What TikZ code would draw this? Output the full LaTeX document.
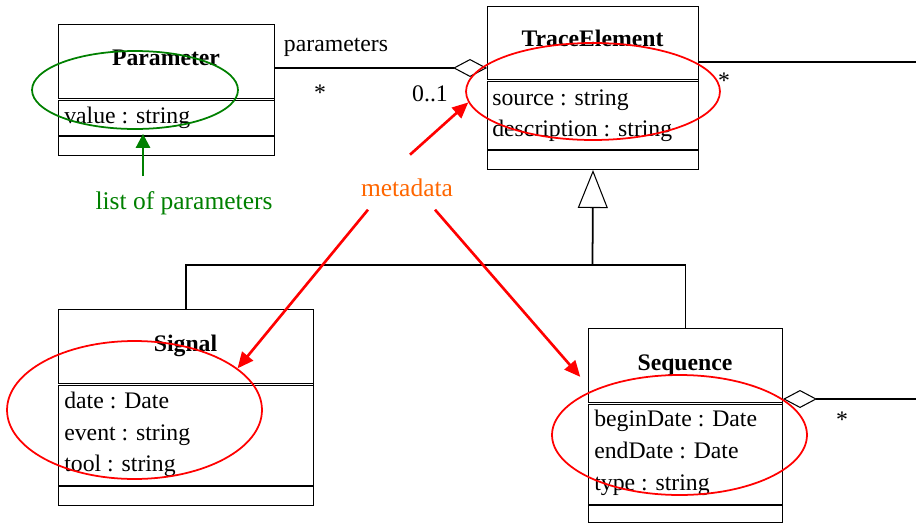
\documentclass[tikz,border=0pt]{standalone}
\usepackage{fontspec}
\setmainfont{Liberation Serif}
\usetikzlibrary{
  arrows.meta,
  positioning,
  shapes.geometric,
  calc
}
\definecolor{note}{RGB}{255,0,0}
\definecolor{metatext}{RGB}{255,102,0}
\definecolor{paramnote}{RGB}{0,128,0}

\begin{document}
\begin{tikzpicture}[
  x=0.02cm, y=-0.02cm,
  every node/.style={font=\fontsize{13.5}{16}\selectfont, inner sep=0pt},
  cls/.style={draw, line width=0.6pt, anchor=north west},
  clsname/.style={font=\fontsize{13.5}{16}\selectfont\bfseries, anchor=base},
  attr/.style={anchor=base west},
  mult/.style={anchor=base},
  divider/.style={line width=0.6pt},
  dividertwin/.style={double, double distance=0.7pt, line width=0.5pt},
  ring/.style={ellipse, draw=note, line width=1pt},
  notearrow/.style={draw=note, line width=1.5pt,
                    -{Triangle[length=0.32cm, width=0.28cm]}},
  notelabel/.style={font=\fontsize{14.5}{17}\selectfont, anchor=base},
  assoc/.style={line width=0.6pt},
  aggr/.tip={Diamond[open, fill=white, length=0.68cm, width=0.36cm, line width=0.6pt]},
  gen/.tip={Triangle[open, fill=white, length=0.76cm, width=0.6cm, line width=0.6pt]}
]
\useasboundingbox (0,0) rectangle (916,524);

% Parameter
\node[cls, minimum width=4.32cm, minimum height=2.62cm] (param) at (58,24) {};
\node[clsname] (paramname) at (166,65.7) {Parameter};
\draw[dividertwin] (58,99.3) -- (274,99.3);
\draw[divider] (58,136) -- (274,136);
\node[attr] (paramvalue) at (64,123.3) {value : string};

% TraceElement
\node[cls, minimum width=4.22cm, minimum height=3.26cm] (trace) at (487,6) {};
\node[clsname] (tracename) at (592.5,46.7) {TraceElement};
\draw[dividertwin] (487,80.3) -- (698,80.3);
\draw[divider] (487,150) -- (698,150);
\node[attr] (tracesource) at (492,105) {source : string};
\node[attr] (tracedesc) at (492,136) {description : string};

% Signal
\node[cls, minimum width=5.10cm, minimum height=3.92cm] (signal) at (58,309) {};
\node[clsname] (signalname) at (185.5,351) {Signal};
\draw[dividertwin] (58,384.3) -- (313,384.3);
\draw[divider] (58,486) -- (313,486);
\node[attr] (signaldate) at (64,408) {date : Date};
\node[attr] (signalevent) at (64,440) {event : string};
\node[attr] (signaltool) at (64,471.7) {tool : string};

% Sequence
\node[cls, minimum width=3.88cm, minimum height=3.88cm] (seq) at (588,328) {};
\node[clsname] (seqname) at (685,370) {Sequence};
\draw[dividertwin] (588,403.2) -- (782,403.2);
\draw[divider] (588,505) -- (782,505);
\node[attr] (seqbegin) at (594,426.7) {beginDate : Date};
\node[attr] (seqend) at (594,458.3) {endDate : Date};
\node[attr] (seqtype) at (594,490) {type : string};

% associations
\coordinate (paramend) at ([yshift=-1.24cm]trace.north west);
\draw[assoc, -aggr] (param.east |- paramend) -- (paramend);
\node[mult] (paramrole) at (336,51.7) {parameters};
\node[mult] (parammany) at (320,100) {*};
\node[mult] (paramone) at (430,101.7) {0..1};

\coordinate (traceout) at (916,62);
\draw[assoc] (trace.east |- traceout) -- (traceout);
\node[mult] (tracemany) at (724,88) {*};

\coordinate (seqout) at (916,399);
\draw[assoc, aggr-] (seq.east |- seqout) -- (seqout);
\node[mult] (seqmany) at (842,427) {*};

% generalization
\coordinate (genbar) at (592.5,265);
\draw[line width=1pt, -gen] (genbar) -- (trace.south);
\draw[assoc] (signal.north) |- (genbar) -| (seq.north);

% annotations
\node[ring, draw=paramnote, minimum width=4.12cm, minimum height=1.56cm] (paramring) at (135,90) {};
\node[ring, minimum width=5.08cm, minimum height=1.94cm] (tracering) at (593,91.5) {};
\node[ring, minimum width=5.10cm, minimum height=2.76cm] (signalring) at (134.5,410) {};
\node[ring, minimum width=5.10cm, minimum height=2.40cm] (seqring) at (679.5,435) {};

\node[notelabel, text=paramnote] (paramlist) at (184,209) {list of parameters};
\node[notelabel, text=metatext] (metadata) at (407,196.7) {metadata};

\coordinate (liststart) at ($(paramlist.base)+(-41,-33)$);
\draw[notearrow, draw=paramnote, -{Triangle[length=0.28cm, width=0.28cm]}, shorten >=0.08cm]
  (liststart) -- (liststart |- paramring.south);

\draw[notearrow] ($(metadata.base)+(3,-42)$) -- (tracering.185);
\draw[notearrow] ($(metadata.base)+(-39,13)$) -- (signalring.22);
\draw[notearrow, shorten >=0.36cm] ($(metadata.base)+(28,13)$) -- (seqring.153);

\end{tikzpicture}
\end{document}
